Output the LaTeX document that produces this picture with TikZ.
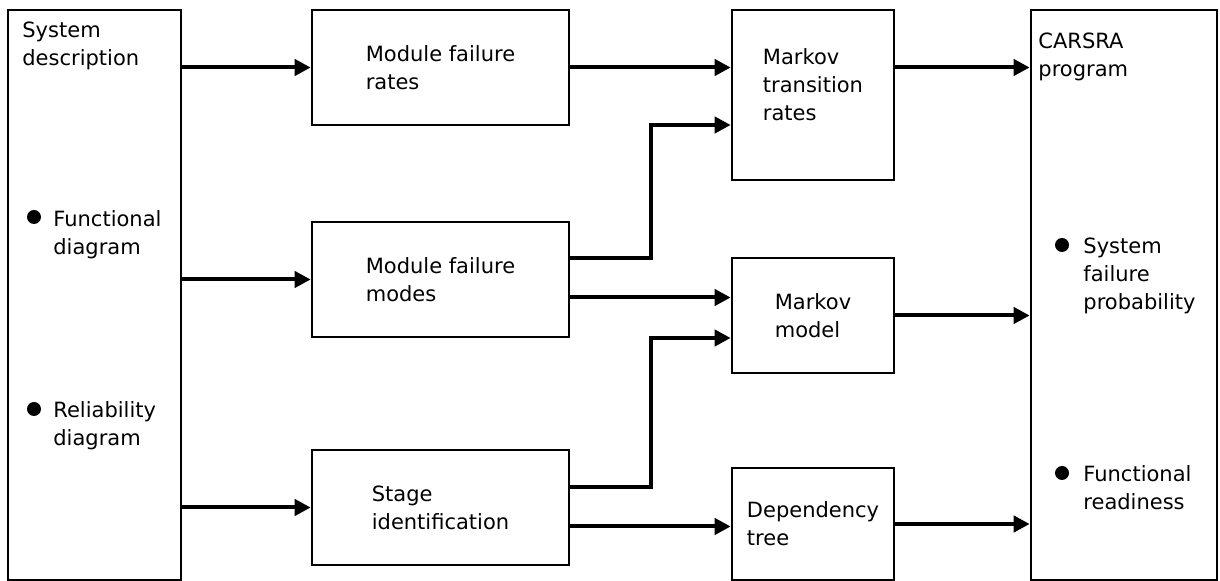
\documentclass[tikz,border=0pt]{standalone}
\usepackage{fontspec}
\setmainfont{DejaVu Sans}
\usetikzlibrary{arrows.meta}

\tikzset{
  box/.style={draw, line width=1.3pt, inner sep=0pt, align=left},
  flow/.style={line width=2pt, -{Triangle[length=8pt,width=8pt]}},
  dot/.style={circle, fill, inner sep=0pt, minimum size=7pt},
  txt/.style={anchor=base west, inner sep=0pt, align=left},
}

\begin{document}
\begin{tikzpicture}[x=0.5pt, y=-0.5pt, font=\fontsize{10.5}{14}\selectfont]
  \useasboundingbox (0,0) rectangle (1220,581);
  % input and output boxes, full height
  \node[box, minimum width=86.5pt, minimum height=285pt] (sys) at (94.5,295) {};
  \node[box, minimum width=93pt, minimum height=285pt] (carsra) at (1124,295) {};
  % module data
  \node[box, minimum width=128.5pt, minimum height=57.5pt] (rates) at (440.5,67.5) {Module failure\\rates};
  \node[box, minimum width=128.5pt, minimum height=57.5pt] (modes) at (440.5,279.5) {Module failure\\modes};
  \node[box, minimum width=128.5pt, minimum height=57.5pt] (stage) at (440.5,507.5) {Stage\\identification};
  % Markov side
  \node[box, minimum width=81pt, minimum height=85pt, text depth=10pt] (trans) at (813,95) {Markov\\transition\\rates};
  \node[box, minimum width=81pt, minimum height=57.5pt] (markov) at (813,315.5) {Markov\\model};
  \node[box, minimum width=81pt, minimum height=56pt] (tree) at (813,524) {Dependency\\tree};

  % texts of the two tall boxes (base = last line)
  \node[txt] (systxt) at (22,66) {System\\description};
  \node[dot] (dotfd) at (34,217) {};
  \node[txt] (fdtxt) at (53,255) {Functional\\diagram};
  \node[dot] (dotrd) at (34,409) {};
  \node[txt] (rdtxt) at (53,446) {Reliability\\diagram};
  \node[txt] (cartxt) at (1038,77) {CARSRA\\program};
  \node[dot] (dotsf) at (1062,245) {};
  \node[txt] (sftxt) at (1083,310) {System\\failure\\probability};
  \node[dot] (dotfr) at (1062,473) {};
  \node[txt] (frtxt) at (1083,510) {Functional\\readiness};

  % connectors
  \draw[flow] (rates.west -| sys.east) -- (rates.west);
  \draw[flow] (modes.west -| sys.east) -- (modes.west);
  \draw[flow] (stage.west -| sys.east) -- (stage.west);
  \draw[flow] (rates.east) -- (rates.east -| trans.west);
  \draw[flow] ([yshift=10.75pt]modes.east) -| ([xshift=-40pt,yshift=-15pt]trans.west) -- ([yshift=-15pt]trans.west);
  \draw[flow] ([yshift=-9pt]modes.east) -- ([yshift=-9pt]modes.east -| markov.west);
  \draw[flow] ([yshift=10.25pt]stage.east) -| ([xshift=-40pt,yshift=-11.25pt]markov.west) -- ([yshift=-11.25pt]markov.west);
  \draw[flow] ([yshift=-9.5pt]stage.east) -- ([yshift=-9.5pt]stage.east -| tree.west);
  \draw[flow] (trans.east |- rates.east) -- (carsra.west |- rates.east);
  \draw[flow] (markov.east) -- (markov.east -| carsra.west);
  \draw[flow] (tree.east) -- (tree.east -| carsra.west);
\end{tikzpicture}
\end{document}
